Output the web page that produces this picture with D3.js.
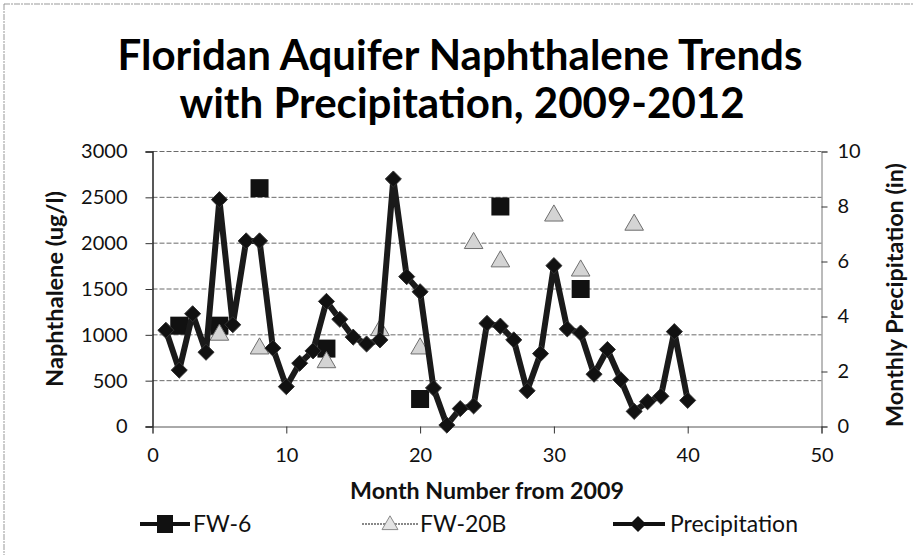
<!DOCTYPE html>
<html>
<head>
<meta charset="utf-8">
<script src="https://cdn.jsdelivr.net/npm/d3@7"></script>
<style>
body { margin: 0; background: #fff; }
svg { display: block; font-family: Lato, 'Open Sans', sans-serif; }
.grid line { stroke: #6a6a6a; stroke-dasharray: 5,2; }
.axis path, .axis line { stroke: #333; }
.axis text { font-size: 20px; fill: #111; font-family: Lato, sans-serif; }
.axis-label { font-weight: bold; font-size: 20px; fill: #111; }
.legend-text { font-size: 20px; fill: #111; }
</style>
</head>
<body>
<svg width="913" height="555"></svg>
<script>
//Chart data.
var precipMonths = d3.range(1, 41);
var precipValues = [3.5, 2.05, 4.1, 2.7, 8.25, 3.7, 6.75, 6.75, 2.85, 1.45,
                    2.3, 2.75, 4.55, 3.9, 3.25, 3.0, 3.15, 9.0, 5.45, 4.9,
                    1.4, 0.05, 0.65, 0.75, 3.75, 3.65, 3.15, 1.3, 2.65, 5.85,
                    3.55, 3.4, 1.9, 2.8, 1.7, 0.55, 0.9, 1.1, 3.45, 0.95];
var fw6Months = [2, 5, 8, 13, 20, 26, 32];
var fw6Values = [1100, 1100, 2600, 850, 300, 2400, 1500];
var fw20bMonths = [5, 8, 13, 17, 20, 24, 26, 30, 32, 36];
var fw20bValues = [1000, 850, 700, 1050, 850, 2000, 1800, 2300, 1700, 2200];
var xTicks = [0, 10, 20, 30, 40, 50];
var leftTicks = [0, 500, 1000, 1500, 2000, 2500, 3000];
var rightTicks = [0, 2, 4, 6, 8, 10];
var seriesNames = ['FW-6', 'FW-20B', 'Precipitation'];

var svg = d3.select('svg');
var width = +svg.attr('width'), height = +svg.attr('height');

//Outer frame of the chart (light, scanned look).
svg.append('rect')
  .attr('x', 4).attr('y', 4)
  .attr('width', width + 10).attr('height', height + 10)
  .style('fill', 'none').style('stroke', '#999').style('stroke-dasharray', '6,1,2,1');

//Plot area.
var margin = {top: 151.5, right: 913 - 821.5, bottom: 555 - 426.5, left: 152.5};
var widthInner = width - margin.left - margin.right,
    heightInner = height - margin.top - margin.bottom;
var inner = svg.append('g')
  .attr('transform', 'translate(' + margin.left + ',' + margin.top + ')');

var xScale = d3.scaleLinear().domain([0, 50]).range([0, widthInner]);
var yLeft = d3.scaleLinear().domain([0, 3000]).range([heightInner, 0]);
var yRight = d3.scaleLinear().domain([0, 10]).range([heightInner, 0]);

//Gridlines.
inner.append('g').attr('class', 'grid')
  .selectAll('line').data(leftTicks.slice(1)).enter().append('line')
  .attr('x1', 0).attr('x2', widthInner)
  .attr('y1', function(d) { return yLeft(d); })
  .attr('y2', function(d) { return yLeft(d); });

//Axes.
var axL = inner.append('g').attr('class', 'axis')
  .call(d3.axisLeft(yLeft).tickValues(leftTicks).tickSize(7).tickPadding(18).tickFormat(d3.format('d')));
var axR = inner.append('g').attr('class', 'axis')
  .attr('transform', 'translate(' + widthInner + ',0)')
  .call(d3.axisRight(yRight).tickValues(rightTicks).tickSize(6).tickPadding(10).tickFormat(d3.format('d')));
var axB = inner.append('g').attr('class', 'axis')
  .attr('transform', 'translate(0,' + heightInner + ')')
  .call(d3.axisBottom(xScale).tickValues(xTicks).tickSize(7).tickPadding(14).tickFormat(d3.format('d')));
axL.select('.domain').style('stroke-width', 1.5).style('stroke', '#222');
axR.select('.domain').style('stroke', '#777');
axB.select('.domain').style('stroke', '#555');

//FW-6 squares.
var sq = 18;
inner.append('g').selectAll('rect').data(fw6Months).enter().append('rect')
  .attr('x', function(d) { return xScale(d) - sq / 2; })
  .attr('y', function(d, i) { return yLeft(fw6Values[i]) - sq / 2; })
  .attr('width', sq).attr('height', sq)
  .style('fill', '#111');

//FW-20B triangles.
var tri = d3.symbol().type(d3.symbolTriangle).size(150);
inner.append('g').selectAll('path').data(fw20bMonths).enter().append('path')
  .attr('d', tri)
  .attr('transform', function(d, i) { return 'translate(' + xScale(d) + ',' + yLeft(fw20bValues[i]) + ')'; })
  .style('fill', '#d4d4d4').style('stroke', '#6e6e6e').style('stroke-width', 1);

//Precipitation line with diamonds (secondary axis).
var precipData = precipMonths.map(function(m, i) { return {x: m, y: precipValues[i]}; });
var line = d3.line()
  .x(function(d) { return xScale(d.x); })
  .y(function(d) { return yRight(d.y); });
inner.append('path')
  .datum(precipData)
  .attr('d', line)
  .style('fill', 'none').style('stroke', '#1a1a1a').style('stroke-width', 6)
  .style('stroke-linejoin', 'round');
var diamond = d3.symbol().type(d3.symbolDiamond2).size(165);
inner.append('g').selectAll('path').data(precipData).enter().append('path')
  .attr('d', diamond)
  .attr('transform', function(d) { return 'translate(' + xScale(d.x) + ',' + yRight(d.y) + ')'; })
  .style('fill', '#111').style('stroke', '#333').style('stroke-width', 1);

//Shrinks or grows a text to a given width.
function fit(sel, w) {
  var l = sel.node().getComputedTextLength();
  var fs = parseFloat(sel.style('font-size'));
  sel.style('font-size', (fs * w / l) + 'px');
  return fs * w / l;
}

//Title.
var t1 = svg.append('text').text('Floridan Aquifer Naphthalene Trends')
  .attr('x', 460).attr('y', 70).attr('text-anchor', 'middle')
  .style('font-weight', 'bold').style('font-size', '36px').style('fill', '#000');
var tfs = fit(t1, 685);
svg.append('text').text('with Precipitation, 2009-2012')
  .attr('x', 462).attr('y', 118).attr('text-anchor', 'middle')
  .style('font-weight', 'bold').style('font-size', tfs + 'px').style('fill', '#000');

//Axis titles.
var yl = svg.append('text').attr('class', 'axis-label').text('Naphthalene (ug/l)')
  .attr('text-anchor', 'middle')
  .attr('transform', 'translate(63,' + (margin.top + heightInner / 2) + ') rotate(-90)');
fit(yl, 196);
var yr = svg.append('text').attr('class', 'axis-label').text('Monthly Precipitation (in)')
  .attr('text-anchor', 'middle')
  .attr('transform', 'translate(903,' + (margin.top + heightInner / 2 + 6) + ') rotate(-90)');
fit(yr, 264);
var xl = svg.append('text').attr('class', 'axis-label').text('Month Number from 2009')
  .attr('text-anchor', 'middle')
  .attr('x', margin.left + widthInner / 2).attr('y', 499);
fit(xl, 274);

//Legend.
var ly = 524;
var leg = svg.append('g');
//FW-6
leg.append('line').attr('x1', 140).attr('x2', 190).attr('y1', ly).attr('y2', ly)
  .style('stroke', '#111').style('stroke-width', 4);
leg.append('rect').attr('x', 165 - 8).attr('y', ly - 9).attr('width', 16).attr('height', 18)
  .style('fill', '#111');
//FW-20B
leg.append('line').attr('x1', 362).attr('x2', 418).attr('y1', ly).attr('y2', ly)
  .style('stroke', '#888').style('stroke-width', 2).style('stroke-dasharray', '2,1');
leg.append('path').attr('d', d3.symbol().type(d3.symbolTriangle).size(110))
  .attr('transform', 'translate(390,' + (ly + 1) + ')')
  .style('fill', '#e4e4e4').style('stroke', '#8a8a8a');
//Precipitation
leg.append('line').attr('x1', 613).attr('x2', 665).attr('y1', ly).attr('y2', ly)
  .style('stroke', '#111').style('stroke-width', 4);
leg.append('path').attr('d', diamond)
  .attr('transform', 'translate(638,' + ly + ')')
  .style('fill', '#111');
var legX = [193, 420, 670];
var legText = leg.selectAll('text.legend-text').data(seriesNames).enter().append('text')
  .attr('class', 'legend-text')
  .attr('x', function(d, i) { return legX[i]; })
  .attr('y', ly + 8)
  .text(function(d) { return d; });
fit(d3.select(legText.nodes()[2]), 128);
legText.style('font-size', d3.select(legText.nodes()[2]).style('font-size'));
</script>
</body>
</html>
